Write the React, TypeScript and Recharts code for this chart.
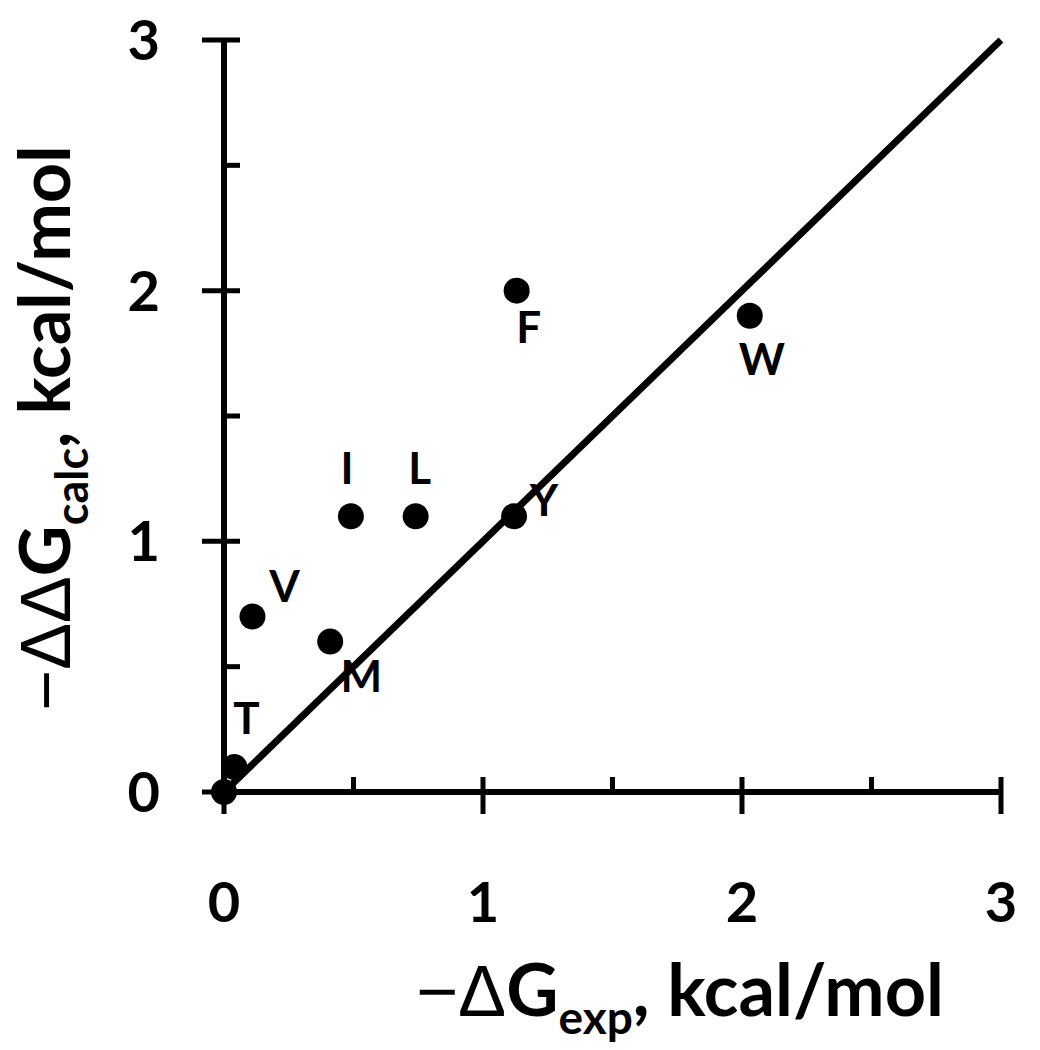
import { ReferenceLine, Scatter, ScatterChart, XAxis, YAxis } from "recharts";

// residue labels, measured (x) and calculated (y) values
const residues = ["", "T", "V", "M", "I", "L", "Y", "F", "W"];
const expEnergies = [0, 0.04, 0.11, 0.41, 0.49, 0.74, 1.12, 1.13, 2.03];
const calcEnergies = [0, 0.1, 0.7, 0.6, 1.1, 1.1, 1.1, 2.0, 1.9];
const axisTicks = [0, 0.5, 1, 1.5, 2, 2.5, 3];
const diagonal = [
  { x: 0, y: 0 },
  { x: 3, y: 3 },
];

// where each residue letter sits relative to its dot
const labelOffsets: Record<string, [number, number]> = {
  T: [12, -33],
  V: [32, -15],
  M: [31, 50],
  I: [-4, -32],
  L: [4, -32],
  Y: [30, 0],
  F: [12, 52],
  W: [12, 59],
};

const points = residues.map((name, i) => ({
  name,
  x: expEnergies[i],
  y: calcEnergies[i],
}));

const FONT = "Lato, 'Open Sans', sans-serif";
const SYMBOL_FONT = "'Liberation Sans', sans-serif";

const XTick = (props: any) => {
  const { x, y, payload } = props;
  const major = Number.isInteger(payload.value);
  return (
    <g>
      <line x1={x} x2={x} y1={y - 15} y2={major ? y + 22 : y} stroke="#000" strokeWidth={5} />
      {major && (
        <text x={x} y={y + 130} textAnchor="middle" fontSize={56} fontWeight={700} fontFamily={FONT} fill="#000">
          {payload.value}
        </text>
      )}
    </g>
  );
};

const YTick = (props: any) => {
  const { x, y, payload } = props;
  const major = Number.isInteger(payload.value);
  return (
    <g>
      <line x1={major ? x - 22 : x} x2={x + 16} y1={y} y2={y} stroke="#000" strokeWidth={5} />
      {major && (
        <text x={x - 64} y={y + 20} textAnchor="end" fontSize={56} fontWeight={700} fontFamily={FONT} fill="#000">
          {payload.value}
        </text>
      )}
    </g>
  );
};

const XTitle = () => (
  <text x={680} y={1016} textAnchor="middle" fontSize={72} fontWeight={700} fontFamily={FONT} fill="#000">
    <tspan fontFamily={SYMBOL_FONT} fontWeight={400}>−Δ</tspan>
    <tspan>G</tspan>
    <tspan fontSize={46} dy={18}>exp</tspan>
    <tspan dy={-18}>, kcal/mol</tspan>
  </text>
);

const YTitle = () => (
  <text
    x={0}
    y={0}
    transform="translate(70, 428) rotate(-90)"
    textAnchor="middle"
    fontSize={70}
    fontWeight={700}
    fontFamily={FONT}
    fill="#000"
  >
    <tspan fontFamily={SYMBOL_FONT} fontWeight={400}>−ΔΔ</tspan>
    <tspan>G</tspan>
    <tspan fontSize={45} dy={18}>calc</tspan>
    <tspan dy={-18}>, kcal/mol</tspan>
  </text>
);

const Dot = (props: any) => {
  const { cx, cy, payload } = props;
  const off = labelOffsets[payload.name];
  return (
    <g>
      <circle cx={cx} cy={cy} r={13} fill="#000" />
      {off && (
        <text
          x={cx + off[0]}
          y={cy + off[1]}
          textAnchor="middle"
          fontSize={44}
          fontWeight={700}
          fontFamily={FONT}
          fill="#000"
        >
          {payload.name}
        </text>
      )}
    </g>
  );
};

export default function App() {
  return (
    <div style={{ margin: "-8px 0 0 -8px" }}>
      <ScatterChart width={1040} height={1050} margin={{ top: 40, right: 39, bottom: 98, left: 104 }}>
        <XAxis
          type="number"
          dataKey="x"
          domain={[0, 3]}
          ticks={axisTicks}
          interval={0}
          height={160}
          tickSize={0}
          tickMargin={0}
          tickLine={false}
          tick={<XTick />}
          stroke="#000"
          strokeWidth={6}
          axisLine={{ stroke: "#000", strokeWidth: 6 }}
          label={<XTitle />}
        />
        <YAxis
          type="number"
          dataKey="y"
          domain={[0, 3]}
          ticks={axisTicks}
          interval={0}
          width={120}
          tickSize={0}
          tickMargin={0}
          tickLine={false}
          tick={<YTick />}
          stroke="#000"
          strokeWidth={6}
          axisLine={{ stroke: "#000", strokeWidth: 6 }}
          label={<YTitle />}
        />
        <ReferenceLine segment={diagonal} stroke="#000" strokeWidth={7} />
        <Scatter data={points} shape={<Dot />} isAnimationActive={false} />
      </ScatterChart>
    </div>
  );
}
